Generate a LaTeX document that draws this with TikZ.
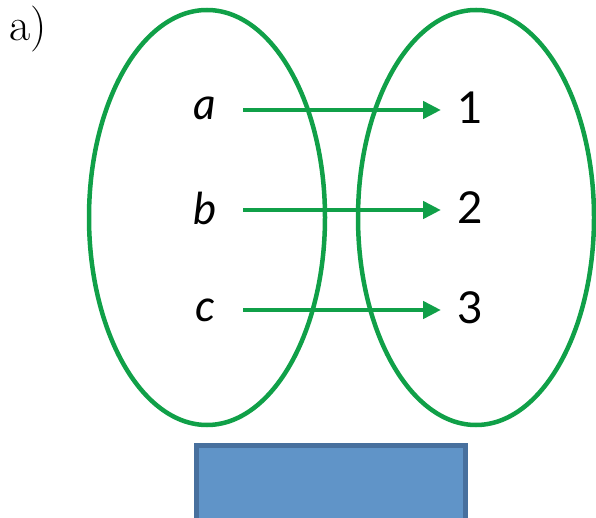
\documentclass[tikz,border=0pt]{standalone}
\usepackage{fontspec}
\newfontfamily\lbl{Lato}
\usetikzlibrary{arrows.meta}
\definecolor{grn}{RGB}{16,160,72}
\definecolor{boxfill}{RGB}{96,148,200}
\definecolor{boxline}{RGB}{72,112,158}
\tikzset{
  setell/.style={draw=grn, line width=4.5pt, ellipse, minimum width=236pt, minimum height=415pt, inner sep=0pt},
  maparrow/.style={draw=grn, line width=4.5pt, -{Triangle[length=18pt,width=17pt]}, shorten >=0pt},
  elem/.style={font=\lbl\fontsize{44}{50}\selectfont, inner sep=0pt},
}
\usetikzlibrary{shapes.geometric}
\begin{document}
\begin{tikzpicture}[x=1pt,y=-1pt]
\useasboundingbox (0,0) rectangle (596,518);
\node[font=\fontsize{46}{50}\selectfont, anchor=west, inner sep=0pt] (lab) at (9,29) {a)};
\node[setell] (L) at (207,217.5) {};
\node[setell] (R) at (476,217.5) {};
\node[elem] (a) at (205,108) {\itshape a};
\node[elem] (b) at (205,208) {\itshape b};
\node[elem] (c) at (205,310) {\itshape c};
\node[elem] (n1) at (470,108) {1};
\node[elem] (n2) at (470,208) {2};
\node[elem] (n3) at (470,308) {3};
\coordinate (s1) at (243,110); \coordinate (e1) at (441,110);
\coordinate (s2) at (243,210); \coordinate (e2) at (441,210);
\coordinate (s3) at (243,310); \coordinate (e3) at (441,310);
\draw[maparrow] (s1) -- (e1);
\draw[maparrow] (s2) -- (e2);
\draw[maparrow] (s3) -- (e3);
\node[draw=boxline, fill=boxfill, line width=5pt, minimum width=269pt, minimum height=90pt, anchor=north west, inner sep=0pt] (box) at (193.5,442.5) {};
\end{tikzpicture}
\end{document}
